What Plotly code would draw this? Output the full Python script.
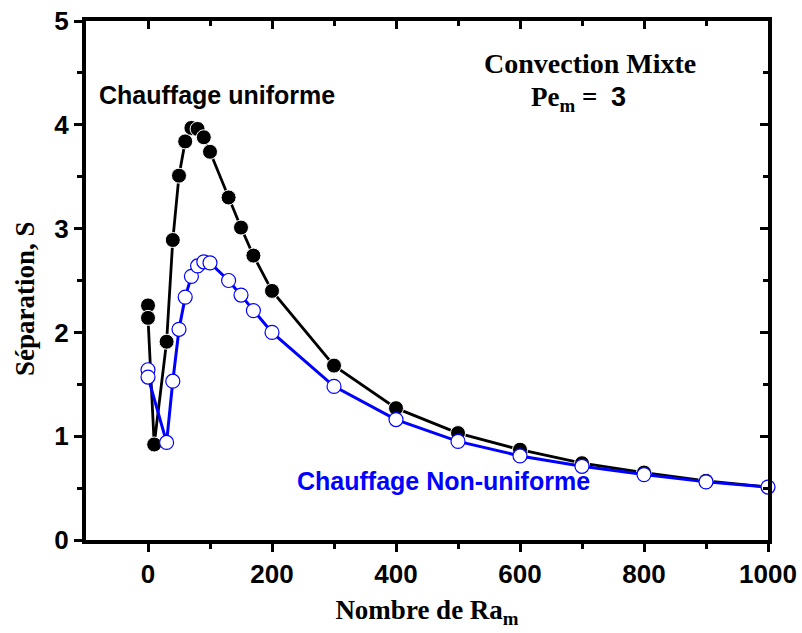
import plotly.graph_objects as go

# Data
ra_uniform = [0, 0, 10, 30, 40, 50, 60, 70, 80, 90, 100, 130, 150, 170, 200,
              300, 400, 500, 600, 700, 800, 900, 1000]
s_uniform = [2.26, 2.14, 0.92, 1.91, 2.89, 3.51, 3.84, 3.97, 3.96, 3.88, 3.74,
             3.30, 3.01, 2.74, 2.40, 1.68, 1.27, 1.03, 0.87, 0.74, 0.65, 0.57, 0.51]

ra_nonuniform = [0, 0, 30, 40, 50, 60, 70, 80, 90, 100, 130, 150, 170, 200,
                 300, 400, 500, 600, 700, 800, 900, 1000]
s_nonuniform = [1.64, 1.57, 0.94, 1.53, 2.03, 2.34, 2.54, 2.64, 2.68, 2.67,
                2.50, 2.36, 2.21, 2.00, 1.48, 1.16, 0.95, 0.81, 0.71, 0.63, 0.56, 0.51]

x_ticks = [0, 200, 400, 600, 800, 1000]
x_minor = [100, 300, 500, 700, 900]
y_ticks = [0, 1, 2, 3, 4, 5]
y_minor = [0.5, 1.5, 2.5, 3.5, 4.5]
x_range = [-100, 1000]
y_range = [0, 5]

SANS = "Liberation Sans"
SERIF = "Liberation Serif"

fig = go.Figure()

fig.add_trace(go.Scatter(
    x=ra_uniform, y=s_uniform, mode="lines+markers",
    line=dict(color="black", width=2.8),
    marker=dict(symbol="circle", size=15, color="black",
                line=dict(color="white", width=1)),
    showlegend=False, cliponaxis=False,
))
fig.add_trace(go.Scatter(
    x=ra_nonuniform, y=s_nonuniform, mode="lines+markers",
    line=dict(color="#0000ff", width=3),
    marker=dict(symbol="circle", size=14, color="white",
                line=dict(color="#0000ff", width=1.2)),
    showlegend=False, cliponaxis=False,
))
# invisible trace to activate mirrored (top/right) axes
fig.add_trace(go.Scatter(x=[x_range[0]], y=[y_range[0]], xaxis="x2", yaxis="y2",
                         mode="markers", marker=dict(opacity=0),
                         showlegend=False, hoverinfo="skip"))

axis_common = dict(showline=True, linecolor="black", linewidth=4,
                   showgrid=False, zeroline=False, automargin=False,
                   tickcolor="black", tickwidth=3, ticklen=8)
minor_out = dict(ticks="outside", ticklen=5, tickwidth=3, tickcolor="black")
minor_in = dict(ticks="inside", ticklen=5, tickwidth=3, tickcolor="black")

fig.update_layout(
    width=802, height=633,
    margin=dict(l=86, r=34, t=21, b=93),
    paper_bgcolor="white", plot_bgcolor="white",
    xaxis=dict(**axis_common, range=x_range, tickvals=x_ticks, ticks="outside",
               minor=dict(tickvals=x_minor, **minor_out),
               tickfont=dict(family=SANS, size=26, color="black", weight="bold"),
               title=dict(text="Nombre de Ra<sub>m</sub>", standoff=13,
                          font=dict(family=SERIF, size=27, color="black", weight="bold"))),
    yaxis=dict(**axis_common, range=y_range, tickvals=y_ticks, ticks="outside",
               minor=dict(tickvals=y_minor, **minor_out),
               tickfont=dict(family=SANS, size=26, color="black", weight="bold")),
    xaxis2=dict(**axis_common, range=x_range, overlaying="x", side="top",
                tickvals=x_ticks, ticks="inside", showticklabels=False,
                minor=dict(tickvals=x_minor, **minor_in)),
    yaxis2=dict(**axis_common, range=y_range, overlaying="y", side="right",
                tickvals=y_ticks, ticks="inside", showticklabels=False,
                minor=dict(tickvals=y_minor, **minor_in)),
)

# y-axis title (placed as rotated annotation to match the reference offset)
fig.add_annotation(x=-0.0895, y=2.33, xref="paper", yref="y", text="Séparation, S",
                   textangle=-90, showarrow=False, xanchor="center", yanchor="middle",
                   font=dict(family=SERIF, size=27, color="black", weight="bold"))

fig.add_annotation(x=111, y=4.29, xref="x", yref="y", text="Chauffage uniforme",
                   showarrow=False, xanchor="center",
                   font=dict(family=SANS, size=25, color="black", weight="bold"))
fig.add_annotation(x=477, y=0.57, xref="x", yref="y", text="Chauffage Non-uniforme",
                   showarrow=False, xanchor="center",
                   font=dict(family=SANS, size=25, color="#0000ff", weight="bold"))
fig.add_annotation(x=713, y=4.59, xref="x", yref="y", text="Convection Mixte",
                   showarrow=False, xanchor="center",
                   font=dict(family=SERIF, size=28, color="black", weight="bold"))
fig.add_annotation(x=695, y=4.25, xref="x", yref="y",
                   text="Pe<sub>m</sub> =  <span style='font-family:Liberation Sans'>3</span>",
                   showarrow=False, xanchor="center",
                   font=dict(family=SERIF, size=27, color="black", weight="bold"))

fig.write_html("out.html")
